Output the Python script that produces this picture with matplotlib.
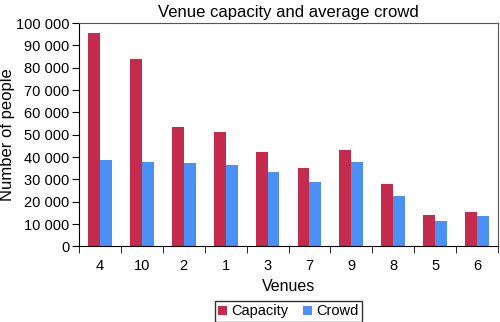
import matplotlib.pyplot as plt
import numpy as np

venues = ["4", "10", "2", "1", "3", "7", "9", "8", "5", "6"]
capacity = [95400, 83700, 53600, 51400, 42300, 35100, 43000, 27800, 13900, 15400]
crowd = [38600, 37800, 37300, 36500, 33300, 29000, 37800, 22700, 11400, 13500]
yticks = list(range(0, 100001, 10000))

cap_color = "#C42B4C"
crowd_color = "#4A90F5"

plt.rcParams["font.family"] = ["Liberation Sans", "DejaVu Sans"]

fig = plt.figure(figsize=(5, 3.22), dpi=100)
ax = fig.add_axes([0.158, 0.2345, 0.838, 0.694])

x = np.arange(len(venues))
w = 0.285
ax.bar(x - w / 2, capacity, w, color=cap_color, label="Capacity")
ax.bar(x + w / 2, crowd, w, color=crowd_color, label="Crowd")

ax.set_xlim(-0.5, len(venues) - 0.5)
ax.set_ylim(0, 100000)
ax.set_yticks(yticks)
ax.set_yticklabels(["{:,}".format(v).replace(",", " ") for v in yticks], fontsize=10.5)
ax.set_xticks(x)
ax.set_xticklabels(venues, fontsize=10.5)
ax.set_xticks(np.arange(len(venues) + 1) - 0.5, minor=True)
ax.tick_params(axis="x", which="major", length=0, pad=9)
ax.tick_params(axis="x", which="minor", length=5, direction="out")
ax.tick_params(axis="y", length=5, direction="out", pad=2)

for s in ["top", "right"]:
    ax.spines[s].set_color("#555555")
for s in ["left", "bottom"]:
    ax.spines[s].set_color("black")

ax.set_title("Venue capacity and average crowd", fontsize=12, pad=4)
ax.set_ylabel("Number of people", fontsize=12)
ax.yaxis.set_label_coords(-0.152, 0.5)
ax.set_xlabel("Venues", fontsize=11.5, labelpad=4)

leg = ax.legend(loc="upper center", bbox_to_anchor=(0.5, -0.21), ncol=2,
                frameon=True, fancybox=False, edgecolor="black", fontsize=10.5,
                handlelength=0.6, handleheight=0.6, handletextpad=0.3,
                columnspacing=1.0, borderpad=0.25)
leg.get_frame().set_linewidth(1.0)

fig.savefig("out.png", dpi=100)
